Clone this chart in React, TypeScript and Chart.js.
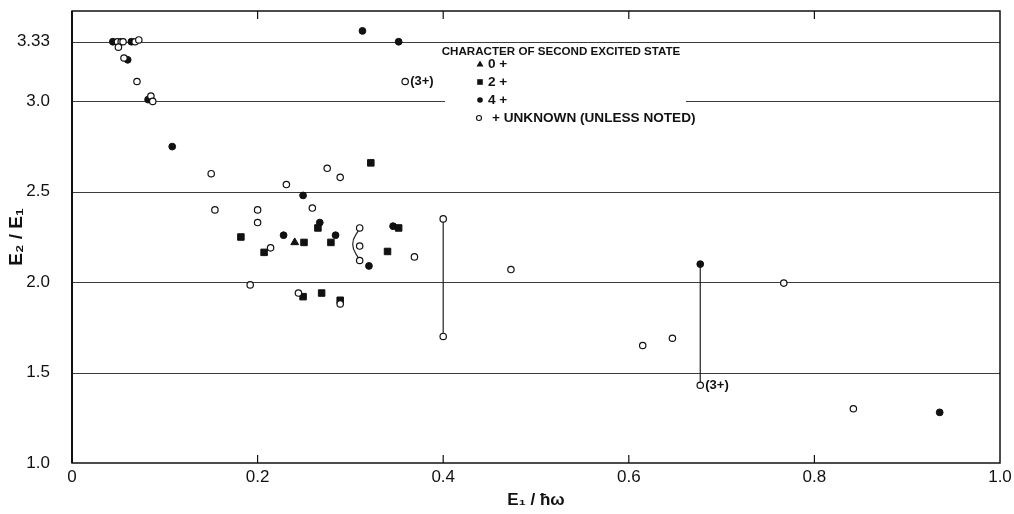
import React, { useEffect, useRef } from 'react';
import { Chart, registerables } from 'chart.js';
Chart.register(...registerables);

// ---- data ----
const xTickValues = [0, 0.2, 0.4, 0.6, 0.8, 1.0];
const xTickLabels = ['0', '0.2', '0.4', '0.6', '0.8', '1.0'];
const yTickValues = [1.0, 1.5, 2.0, 2.5, 3.0, 3.33];
const yTickLabels = ['1.0', '1.5', '2.0', '2.5', '3.0', '3.33'];
const gridValues = [1.5, 2.0, 2.5, 3.0, 3.33];

// 0+ (triangles)
const zeroX = [0.240];
const zeroY = [2.22];
// 2+ (squares)
const twoX = [0.322, 0.265, 0.182, 0.250, 0.279, 0.207, 0.352, 0.340, 0.249, 0.269, 0.289];
const twoY = [2.66, 2.30, 2.25, 2.22, 2.22, 2.165, 2.30, 2.17, 1.92, 1.94, 1.90];
// 4+ (filled circles)
const fourX = [0.044, 0.064, 0.060, 0.082, 0.313, 0.352, 0.108, 0.249, 0.267, 0.228, 0.284, 0.320, 0.346, 0.677, 0.935];
const fourY = [3.33, 3.33, 3.23, 3.01, 3.39, 3.33, 2.75, 2.48, 2.33, 2.26, 2.26, 2.09, 2.31, 2.10, 1.28];
// unknown (open circles)
const unkX = [0.049, 0.053, 0.055, 0.050, 0.068, 0.072, 0.056, 0.070, 0.085, 0.087, 0.359,
  0.150, 0.275, 0.289, 0.231, 0.154, 0.200, 0.259, 0.200, 0.214, 0.310, 0.310, 0.310,
  0.192, 0.244, 0.289, 0.400, 0.400, 0.369, 0.473, 0.677, 0.767, 0.615, 0.647, 0.842];
const unkY = [3.33, 3.33, 3.33, 3.30, 3.33, 3.34, 3.24, 3.11, 3.03, 3.00, 3.11,
  2.60, 2.63, 2.58, 2.54, 2.40, 2.40, 2.41, 2.33, 2.19, 2.30, 2.20, 2.12,
  1.985, 1.94, 1.88, 2.35, 1.70, 2.14, 2.07, 1.43, 1.995, 1.65, 1.69, 1.30];

// connectors
const link1X = [0.400, 0.400];
const link1Y = [2.35, 1.70];
const link2X = [0.677, 0.677];
const link2Y = [2.10, 1.43];
const arcX = [0.310, 0.3025, 0.310];
const arcY = [2.30, 2.21, 2.12];

// annotations
const annoX = [0.359, 0.677];
const annoY = [3.11, 1.43];
const annoText = ['(3+)', '(3+)'];

const legendTitle = 'CHARACTER OF SECOND EXCITED STATE';
const legendLabels = ['0 +', '2 +', '4 +', '+ UNKNOWN (UNLESS NOTED)'];

const FONT = '"Liberation Sans", Arial, sans-serif';

const zip = (xs: number[], ys: number[]) => xs.map((x, i) => ({ x, y: ys[i] }));

const framePlugin = {
  id: 'framePlugin',
  beforeDatasetsDraw(chart: any) {
    const { ctx, chartArea, scales } = chart;
    const { left, right, top, bottom } = chartArea;
    const xs = scales.x, ys = scales.y;
    ctx.save();
    // horizontal grid lines
    ctx.strokeStyle = '#3c3c3c';
    ctx.lineWidth = 1;
    const gapL = 445, gapR = 686;
    gridValues.forEach((v) => {
      const py = Math.round(ys.getPixelForValue(v)) + 0.5;
      ctx.beginPath();
      if (v === 3.0) {
        ctx.moveTo(left, py); ctx.lineTo(gapL, py);
        ctx.moveTo(gapR, py); ctx.lineTo(right, py);
      } else {
        ctx.moveTo(left, py); ctx.lineTo(right, py);
      }
      ctx.stroke();
    });
    // frame
    ctx.strokeStyle = '#111';
    ctx.lineWidth = 1.5;
    ctx.strokeRect(left, top, right - left, bottom - top);
    ctx.lineWidth = 2;
    ctx.beginPath(); ctx.moveTo(left, top); ctx.lineTo(left, bottom); ctx.stroke();
    // inward ticks
    ctx.lineWidth = 1.2;
    xTickValues.forEach((v) => {
      if (v === 0 || v === 1) return;
      const px = xs.getPixelForValue(v);
      ctx.beginPath();
      ctx.moveTo(px, bottom); ctx.lineTo(px, bottom - 8);
      ctx.moveTo(px, top); ctx.lineTo(px, top + 8);
      ctx.stroke();
    });
    ctx.restore();
  },
  afterDatasetsDraw(chart: any) {
    const { ctx, scales } = chart;
    const xs = scales.x, ys = scales.y;
    ctx.save();
    ctx.fillStyle = '#111';
    ctx.font = `bold 13px ${FONT}`;
    ctx.textBaseline = 'middle';
    ctx.textAlign = 'left';
    annoText.forEach((t, i) => {
      ctx.fillText(t, xs.getPixelForValue(annoX[i]) + 5, ys.getPixelForValue(annoY[i]));
    });
    // legend
    ctx.font = `bold 11.6px ${FONT}`;
    ctx.textAlign = 'center';
    ctx.fillText(legendTitle, 561, 52);
    const rowsY = [64, 82, 100, 118];
    const mx = 480;
    ctx.textAlign = 'left';
    ctx.font = `bold 13.6px ${FONT}`;
    legendLabels.forEach((lab, i) => {
      const yy = rowsY[i];
      ctx.fillStyle = '#111';
      ctx.strokeStyle = '#111';
      ctx.lineWidth = 1.1;
      ctx.beginPath();
      if (i === 0) {
        ctx.moveTo(mx, yy - 3.5); ctx.lineTo(mx + 3.5, yy + 2.5); ctx.lineTo(mx - 3.5, yy + 2.5); ctx.closePath(); ctx.fill();
      } else if (i === 1) {
        ctx.rect(mx - 2.8, yy - 2.8, 5.6, 5.6); ctx.fill();
      } else if (i === 2) {
        ctx.arc(mx, yy, 2.8, 0, Math.PI * 2); ctx.fill();
      } else {
        ctx.arc(mx - 1, yy, 2.5, 0, Math.PI * 2); ctx.fillStyle = '#fff'; ctx.fill(); ctx.stroke();
      }
      ctx.fillStyle = '#111';
      ctx.fillText(lab, i === 3 ? 492 : 488, yy + 0.5);
    });
    ctx.restore();
  },
};

export default function App() {
  const ref = useRef<HTMLCanvasElement | null>(null);
  useEffect(() => {
    if (!ref.current) return;
    const lineStyle = {
      type: 'line' as const,
      borderColor: '#222',
      borderWidth: 1.2,
      pointRadius: 0,
      showLine: true,
      fill: false,
    };
    const chart = new Chart(ref.current, {
      type: 'scatter',
      data: {
        datasets: [
          { ...lineStyle, label: 'link1', data: zip(link1X, link1Y), order: 5 },
          { ...lineStyle, label: 'link2', data: zip(link2X, link2Y), order: 5 },
          { ...lineStyle, label: 'arc', data: zip(arcX, arcY), tension: 0.5, order: 5 },
          {
            label: '0+', data: zip(zeroX, zeroY), pointStyle: 'triangle', pointRadius: 4.5,
            backgroundColor: '#111', borderColor: '#111', borderWidth: 1, order: 1,
          },
          {
            label: '2+', data: zip(twoX, twoY), pointStyle: 'rect', pointRadius: 4.6,
            backgroundColor: '#111', borderColor: '#111', borderWidth: 1, order: 2,
          },
          {
            label: '4+', data: zip(fourX, fourY), pointStyle: 'circle', pointRadius: 3.4,
            backgroundColor: '#111', borderColor: '#111', borderWidth: 1, order: 3,
          },
          {
            label: 'unknown', data: zip(unkX, unkY), pointStyle: 'circle', pointRadius: 3.2,
            backgroundColor: '#fff', borderColor: '#111', borderWidth: 1.2, order: 0,
          },
        ],
      },
      options: {
        animation: false,
        responsive: false,
        maintainAspectRatio: false,
        layout: { padding: { left: 0, top: 11, right: 14, bottom: 0 } },
        plugins: { legend: { display: false }, tooltip: { enabled: false } },
        scales: {
          x: {
            type: 'linear', min: 0, max: 1,
            afterBuildTicks: (s: any) => { s.ticks = xTickValues.map((v) => ({ value: v })); },
            afterFit: (s: any) => { s.height = 51; s.paddingLeft = 0; s.paddingRight = 0; },
            grid: { display: false, drawTicks: false },
            border: { display: false },
            ticks: {
              padding: 4, color: '#111', font: { family: FONT, size: 17 },
              maxRotation: 0, autoSkip: false,
              callback: (_v: any, i: number) => xTickLabels[i],
            },
            title: {
              display: true, text: 'E₁ / ħω', color: '#111',
              font: { family: FONT, size: 17, weight: 'bold' }, padding: { top: 0, bottom: 3 },
            },
          },
          y: {
            type: 'linear', min: 1.0, max: 3.5,
            afterBuildTicks: (s: any) => { s.ticks = yTickValues.map((v) => ({ value: v })); },
            afterFit: (s: any) => { s.width = 72; s.paddingTop = 0; s.paddingBottom = 0; },
            grid: { display: false, drawTicks: false },
            border: { display: false },
            ticks: {
              padding: 22, color: '#111', font: { family: FONT, size: 17 },
              autoSkip: false,
              callback: (_v: any, i: number) => yTickLabels[i],
            },
            title: {
              display: true, text: 'E₂ / E₁', color: '#111',
              font: { family: FONT, size: 19, weight: 'bold' }, padding: { top: 5, bottom: 0 },
            },
          },
        },
      },
      plugins: [framePlugin],
    } as any);
    return () => chart.destroy();
  }, []);
  return (
    <div style={{ position: 'absolute', left: 0, top: 0, width: 1014, height: 514, background: '#fff' }}>
      <canvas ref={ref} width={1014} height={514} style={{ display: 'block' }} />
    </div>
  );
}
